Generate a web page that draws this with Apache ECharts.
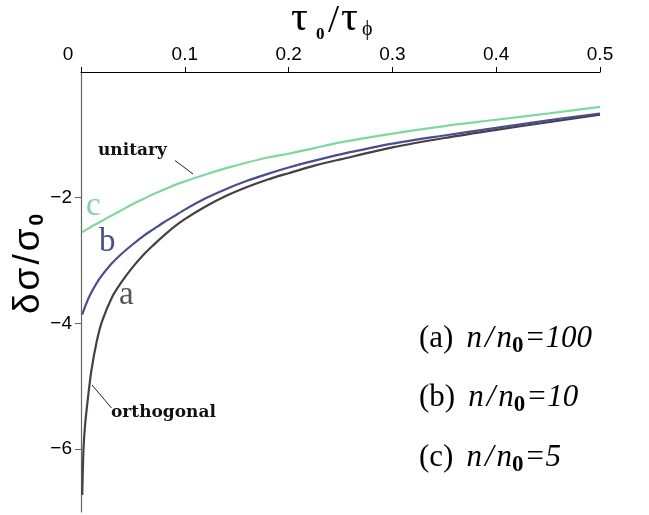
<!DOCTYPE html>
<html><head><meta charset="utf-8">
<script src="https://cdn.jsdelivr.net/npm/echarts@6/dist/echarts.min.js"></script>
<style>html,body{margin:0;padding:0;background:#fff}#c{width:649px;height:515px}</style>
</head><body><div id="c"></div>
<script>
// ---- data ----
const xTicks = [0, 0.1, 0.2, 0.3, 0.4, 0.5];
const yTicks = [-2, -4, -6];
const xA = [0.0012, 0.0024, 0.004, 0.0066, 0.01, 0.015, 0.02, 0.03, 0.04, 0.05, 0.06, 0.07, 0.08, 0.09, 0.10, 0.12, 0.14, 0.16, 0.18, 0.20, 0.225, 0.25, 0.30, 0.35, 0.40, 0.45, 0.50];
const yA = [-6.73, -6.00, -5.60, -5.20, -4.75, -4.30, -3.98, -3.58, -3.32, -3.10, -2.91, -2.75, -2.60, -2.46, -2.34, -2.14, -1.97, -1.83, -1.71, -1.61, -1.49, -1.39, -1.20, -1.05, -0.92, -0.80, -0.68];
const xB = [0.0012, 0.004, 0.008, 0.015, 0.02, 0.03, 0.04, 0.05, 0.06, 0.07, 0.08, 0.09, 0.10, 0.12, 0.14, 0.16, 0.18, 0.20, 0.225, 0.25, 0.30, 0.35, 0.40, 0.45, 0.50];
const yB = [-3.86, -3.73, -3.57, -3.36, -3.24, -3.04, -2.88, -2.74, -2.61, -2.50, -2.39, -2.29, -2.19, -2.01, -1.86, -1.73, -1.62, -1.52, -1.41, -1.31, -1.14, -1.01, -0.89, -0.77, -0.66];
const xC = [0.0012, 0.01, 0.02, 0.03, 0.04, 0.05, 0.06, 0.07, 0.08, 0.09, 0.10, 0.12, 0.14, 0.16, 0.18, 0.20, 0.225, 0.25, 0.30, 0.35, 0.40, 0.45, 0.50];
const yC = [-2.55, -2.46, -2.37, -2.28, -2.19, -2.10, -2.02, -1.94, -1.87, -1.80, -1.74, -1.63, -1.53, -1.44, -1.36, -1.30, -1.21, -1.12, -0.98, -0.86, -0.76, -0.66, -0.555];
const colA = '#473f45', colB = '#4a4d8e', colC = '#7dd89f';

const zip = (xs, ys) => xs.map((x, i) => [x, ys[i]]);
const chart = echarts.init(document.getElementById('c'), null, {renderer: 'canvas'});
const serif = '"Liberation Serif", "DejaVu Serif", serif';
const wserif = '"DejaVu Serif", "Liberation Serif", serif';
const sans = '"Liberation Sans", Arial, sans-serif';

function lineSeries(name, data, color) {
  return {name, type: 'line', data, showSymbol: false, symbol: 'none',
    smooth: 0.3, lineStyle: {color, width: 2.2}, z: 3, silent: true};
}

function legendLine(tag, col, val, y) {
  const rich = {
    p: {fontFamily: serif, fontSize: 31, color: col, padding: [0, 13, 0, 0]},
    i: {fontFamily: serif, fontSize: 31, fontStyle: 'italic', color: '#111'},
    sl: {fontFamily: serif, fontSize: 31, fontStyle: 'italic', color: '#111', padding: [0, 3, 0, 3]},
    s: {fontFamily: serif, fontSize: 23, fontWeight: 'bold', color: '#111', padding: [16, 1, 0, 0]}
  };
  return {type: 'text', left: 419, top: y, z: 10,
    style: {text: '{p|' + tag + '}{i|n}{sl|/}{i|n}{s|0}{i|=' + val + '}', rich}};
}

const yt = {fontFamily: sans, fontSize: 37, color: '#000', padding: [0, 3, 0, 0]};
chart.setOption({
  animation: false,
  grid: {left: 81, right: 49, top: 72, bottom: 3, containLabel: false},
  xAxis: {type: 'value', position: 'top', min: 0, max: 0.5, interval: 0.1,
    axisLine: {show: true, lineStyle: {color: '#000', width: 1.2}},
    axisTick: {show: true, inside: false, length: 5, lineStyle: {color: '#000'}},
    splitLine: {show: false},
    axisLabel: {margin: 8, fontFamily: sans, fontSize: 19, color: '#000',
      formatter: v => v === 0 ? '{z|0}' : String(v),
      rich: {z: {fontFamily: sans, fontSize: 19, color: '#000', padding: [0, 26, 0, 0]}}}
  },
  yAxis: {type: 'value', min: -7, max: 0,
    axisLine: {show: true, onZero: false, lineStyle: {color: '#666', width: 1.2}},
    axisTick: {show: true, length: 6, customValues: yTicks, lineStyle: {color: '#666'}},
    splitLine: {show: false},
    axisLabel: {margin: 9, fontFamily: sans, fontSize: 19, color: '#000', customValues: yTicks,
      formatter: v => String(v).replace('-', '\u2212')}
  },
  series: [lineSeries('a', zip(xA, yA), colA), lineSeries('b', zip(xB, yB), colB), lineSeries('c', zip(xC, yC), colC)],
  graphic: [
    // x axis title pieces
    {type: 'text', left: 291, top: -2, style: {text: '\u03c4', fontFamily: serif, fontSize: 42, fill: '#000'}},
    {type: 'text', left: 316, top: 26, style: {text: '0', fontFamily: serif, fontWeight: 'bold', fontSize: 17, fill: '#000'}},
    {type: 'text', left: 328, top: 1, style: {text: '/', fontFamily: serif, fontSize: 40, fill: '#000'}},
    {type: 'text', left: 341, top: -2, style: {text: '\u03c4', fontFamily: serif, fontSize: 42, fill: '#000'}},
    {type: 'text', left: 362, top: 20, style: {text: '\u03d5', fontFamily: serif, fontSize: 20, fill: '#000'}},
    // y axis title
    {type: 'text', x: 9, y: 314, rotation: Math.PI / 2, style: {text: '{t|\u03b4}{t|\u03c3}{t|/}{t|\u03c3}{s|0}',
      rich: {t: yt,
             s: {fontFamily: sans, fontSize: 21, fontWeight: 'bold', color: '#000', padding: [18, 0, 0, 0]}}}},
    // curve letters
    {type: 'text', left: 86, top: 190, style: {text: 'c', fontFamily: serif, fontSize: 33, fill: colC}},
    {type: 'text', left: 99, top: 226, style: {text: 'b', fontFamily: serif, fontSize: 33, fill: colB}},
    {type: 'text', left: 119, top: 279, style: {text: 'a', fontFamily: serif, fontSize: 33, fill: '#5a5358'}},
    // annotations
    {type: 'text', left: 98, top: 142, style: {text: 'unitary', fontFamily: wserif, fontWeight: 'bold', fontSize: 17, fill: '#111'}},
    {type: 'line', shape: {x1: 175, y1: 160.5, x2: 193, y2: 174}, style: {stroke: '#222', lineWidth: 1}},
    {type: 'text', left: 111, top: 404, style: {text: 'orthogonal', fontFamily: wserif, fontWeight: 'bold', fontSize: 17, fill: '#111'}},
    {type: 'line', shape: {x1: 92, y1: 385, x2: 111.5, y2: 408}, style: {stroke: '#222', lineWidth: 1}},
    // legend
    legendLine('(a)', '#5a5358', '100', 323),
    legendLine('(b)', colB, '10', 382),
    legendLine('(c)', colC, '5', 442)
  ]
});
</script></body></html>
